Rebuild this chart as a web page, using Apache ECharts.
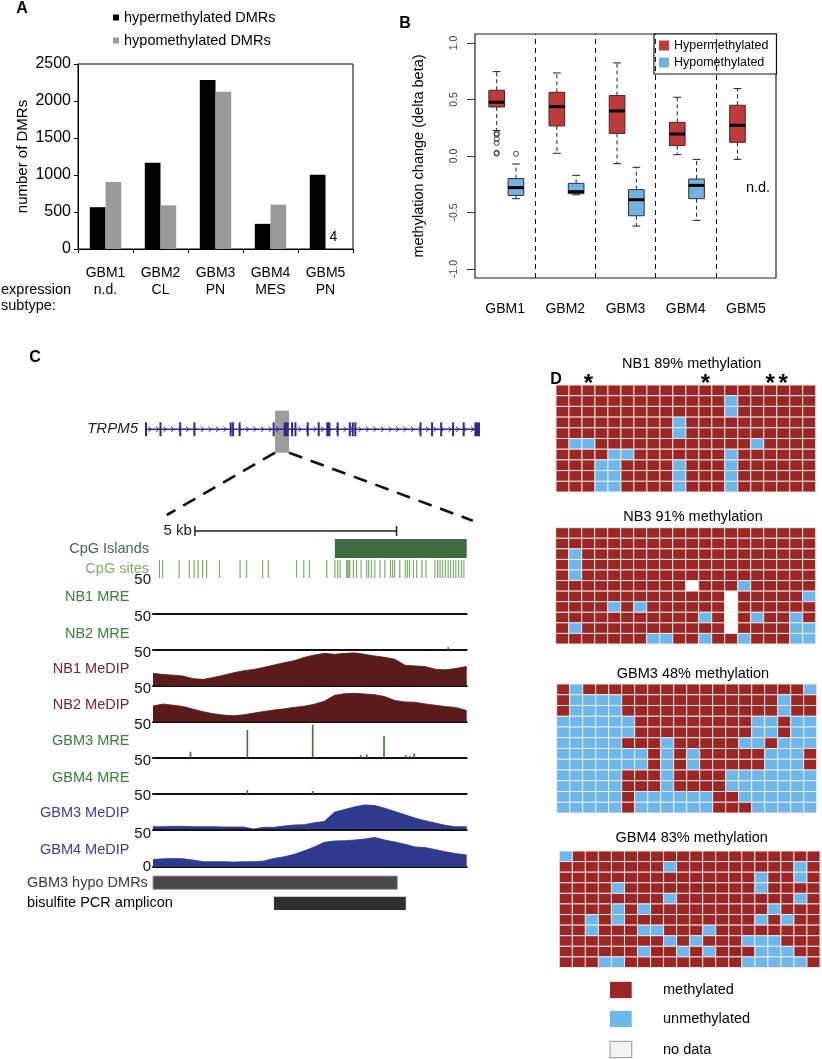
<!DOCTYPE html>
<html>
<head>
<meta charset="utf-8">
<script src="https://cdn.jsdelivr.net/npm/echarts@6.0.0/dist/echarts.min.js"></script>
<style>
html,body{margin:0;padding:0;background:#fff;}
#chart{width:822px;height:1059px;}
</style>
</head>
<body>
<div id="chart"></div>
<script>
// ================= DATA =================
// ---- Panel A
const aCategories = ['GBM1', 'GBM2', 'GBM3', 'GBM4', 'GBM5'];
const aSubtypes = ['n.d.', 'CL', 'PN', 'MES', 'PN'];
const aHyperDMRs = [565, 1165, 2285, 340, 1005];
const aHypoDMRs = [905, 590, 2125, 600, 4];

// ---- Panel B  [lower whisker, Q1, median, Q3, upper whisker]
const bGroups = ['GBM1', 'GBM2', 'GBM3', 'GBM4', 'GBM5'];
const bHyperStats = [
  [0.225, 0.434, 0.476, 0.582, 0.747],
  [0.024, 0.266, 0.437, 0.564, 0.735],
  [-0.068, 0.200, 0.399, 0.535, 0.824],
  [0.012, 0.092, 0.195, 0.298, 0.520],
  [-0.030, 0.121, 0.272, 0.449, 0.597]
];
const bHypoStats = [
  [-0.378, -0.349, -0.280, -0.200, -0.071],
  [-0.343, -0.334, -0.316, -0.242, -0.171],
  [-0.620, -0.529, -0.387, -0.298, -0.100],
  [-0.570, -0.378, -0.260, -0.204, -0.030],
  null
];
const bHyperOutliers = [[0.20, 0.19, 0.15, 0.115, 0.03, 0.02], [], [], [], []];
const bHypoOutliers = [[0.02], [], [], [], []];
const bYTicks = [-1, -0.5, 0, 0.5, 1];
const bSeparators = [1.5, 2.5, 3.5, 4.5];
const bNotDetermined = 'n.d.';

// ---- Panel C (positions in kb)
const trpm5Span = [0, 18];
const trpm5Exons = [[0.0,0.1],[0.78,0.86],[1.84,1.92],[2.6,2.68],[4.55,4.64],[4.68,4.75],[5.03,5.11],
  [6.86,6.92],[7.45,7.72],[7.85,7.93],[8.03,8.1],[8.69,8.77],[9.28,9.34],[9.74,9.96],[10.3,10.37],
  [10.95,11.02],[11.11,11.18],[11.25,11.32],[14.75,14.83],[15.37,15.45],[15.86,15.93],[16.5,16.57],
  [17.07,17.14],[17.7,18.0]];
const trpm5Zoom = [6.99, 7.74];
const regionKb = 7.78;
const scaleBarKb = [1.04, 6.04];
const scaleBarLabel = '5 kb';
const cpgIsland = [4.51, 7.78];
const cpgSites = [0.16,0.24,0.65,0.90,1.02,1.12,1.23,1.33,1.65,2.16,2.32,2.72,2.86,3.56,3.74,3.88,4.31,
  4.51,4.58,4.64,4.80,4.83,4.85,4.88,4.97,5.05,5.16,5.30,5.35,5.42,5.50,5.63,5.75,5.89,5.94,5.99,
  6.12,6.26,6.31,6.36,6.46,6.54,6.67,6.77,6.99,7.06,7.12,7.18,7.25,7.32,7.38,7.45,7.51,7.58,7.65,7.71];
const medipKb = [0,0.25,0.5,0.75,1,1.25,1.5,1.75,2,2.25,2.5,2.75,3,3.25,3.5,3.75,4,4.25,4.5,4.75,5,5.25,5.5,5.75,6,6.25,6.5,6.75,7,7.25,7.5,7.78];
const nb1Medip = [18.7,17,16,14.6,10.6,9.6,12.6,16,19.7,22.7,24.7,27.8,31.3,34.8,37.9,42.9,46.5,49,47.5,49,50,47.5,45,43,40,31,30,29,25,24,26,29];
const nb2Medip = [23.7,26.8,25,23,19,15,12,10,9,10.5,13,15.5,17.7,19.5,21.7,23.5,26.5,31,40,42.5,43,42,41,38,32,30,29.5,27,25,23,21.7,17];
const gbm3Medip = [4,4,4.5,4.5,4,4,4,3.5,3.5,3.5,0.5,3,3,5,6.5,7,10,12,26,30,34,37,36,32,27,22,17,13,9.5,6,4,4];
const gbm4Medip = [11,12,12.5,12,10,7.6,7.6,7.6,7.1,7.6,7.6,8.6,12.6,15,18.7,24,30,37,39,39.4,40.4,42,44.4,40.4,37.4,34,30,29,26,22.7,20,17.7];
const nb1Mre = [];
const nb2Mre = [[7.32, 4]];
const gbm3Mre = [[0.93,9],[2.34,42],[3.96,50],[5.15,4],[5.30,5],[5.73,33],[6.27,4],[6.37,2.5],[6.48,6.5]];
const gbm4Mre = [[2.34,6],[3.96,4.5]];
const featureLabels = ['GBM3 hypo DMRs', 'bisulfite PCR amplicon'];
const featureRanges = [[0, 6.06], [3.0, 6.27]];

// ---- Panel D (M = methylated, U = unmethylated, N = no data)
const nb1Rows = [
  'MMMMM MMMMM MMMMM MMMMM',
  'MMMMM MMMMM MMMUM MMMMM',
  'MMMMM MMMMM MMMUM MMMMM',
  'MMMMM MMMMU MMMMM MMMMM',
  'MMMMM MMMMU MMMMM MMMMM',
  'MUUMM MMMMM MMMMM UMMMM',
  'MMMMU UMMMM MMMUM MMMMM',
  'MMMUU MMMMU MMMUM MMMMM',
  'MMMUU MMMMU MMMUM MMMMM',
  'MMMUU MMMMU MMMUM MMMMM'
];
const nb1StarCols = [2, 11, 16, 17];
const nb3Rows = [
  'MMMMM MMMMM MMMMM MMMMM',
  'MMMMM MMMMM MMMMM MMMMM',
  'MUMMM MMMMM MMMMM MMMMM',
  'MUMMM MMMMM MMMMM MMMMM',
  'MUMMM MMMMM MMMMM MMMMM',
  'MMMMM MMMMM NMMMU MMMMM',
  'MMMMM MMMMM MMMNM MMMMU',
  'MMMMU MUMMM MMMNM MMMMM',
  'MMMMM MMMMM MUMNM UMMUM',
  'MUMMM MMMMM MMMNM MMMUU',
  'MMMMM MMUUM MUMMU MMMUU'
];
const gbm3Rows = [
  'MUMMM MMMMM MMMMM MMMMU',
  'MUUUU MMMMM MMMMM MMUMM',
  'MUUUU MMMMM MMMMM MMUMM',
  'UUUUU UMMMM MMMMM UUMUU',
  'UUUUU UMMMM MMMMM UUMUU',
  'UUUUU MMMUM MMMMU UMUUU',
  'UUUUU UUMUM UMMMM MUUUM',
  'UUUUU UUMUM UMMMM MUUUM',
  'UUUUU MMMUM MMMUU UUUUU',
  'UUUUU MMMUM MMMUU UUUUU',
  'UUUUU MUUUU UUMMU UUUUU',
  'UUUUU MUUUU UUMMM UUUUU'
];
const gbm4Rows = [
  'UMMMM MMMMM MMMMM MMMMM',
  'MMMMM MMMUM MMMMM MMMUM',
  'MMMMM MMMMM MMMMM UMMUM',
  'MMMMU MMMMM MMMMM UMMMM',
  'MMMMM MMMUM MMMMM MMMUM',
  'MMMMU MUMMM MMMMM MUMMM',
  'MMUMU MMMMM MMMMM UMUMM',
  'MMUMM MUUMM MUMMM MMMMM',
  'MMMMM MMMUM UMMMU UUMMM',
  'MMMMM MUMMU MUMMM UUUMM',
  'MMMUU MMMMM MMMMU UUUUM'
];
const dLegendLabels = ['methylated', 'unmethylated', 'no data'];

// ================= STYLE / LAYOUT =================
const FONT = '"Liberation Sans", Arial, Helvetica, sans-serif';
const COL = {
  hyper: '#c03a3b', hypo: '#70b3e3',
  meth: '#9b2624', unmeth: '#6cb8ec', nodata: '#ffffff',
  green: '#3e7b3e', greenLight: '#7fae6e', island: '#3e6c40',
  maroonFill: '#5a1b1b', maroonText: '#7a2424',
  blueFill: '#2f3a8e', blueText: '#3d3d9a', gene: '#2d2d87', mre: '#367a2c'
};
const cellColors = [COL.meth, COL.unmeth, COL.nodata];

const chart = echarts.init(document.getElementById('chart'), null, {renderer: 'canvas'});
const grid = [], xAxis = [], yAxis = [], series = [], graphic = [];
function add(g, xa, ya) {
  const i = grid.length;
  grid.push(g);
  xAxis.push(Object.assign({gridIndex: i}, xa));
  yAxis.push(Object.assign({gridIndex: i}, ya));
  return i;
}
function txt(x, y, text, opts) {
  graphic.push({type: 'text', x, y, silent: true, style: Object.assign({
    text, fontFamily: FONT, fontSize: 14.5, fill: '#000', align: 'left', verticalAlign: 'middle'}, opts || {})});
}
const bare = (min, max) => ({type: 'value', min, max, show: false, splitLine: {show: false}});

// ================= PANEL A =================
const gA = add(
  {left: 78, top: 64, width: 275, height: 185, show: true, borderColor: '#000', borderWidth: 1},
  {type: 'category', data: aCategories,
   axisLine: {lineStyle: {color: '#000', width: 1}},
   axisTick: {show: true, length: 4, lineStyle: {color: '#000'}},
   axisLabel: {color: '#000', fontSize: 14, fontFamily: FONT, margin: 16, lineHeight: 17,
     formatter: (v, i) => v + '\n' + aSubtypes[i]}},
  {type: 'value', min: 0, max: 2500, interval: 500, splitLine: {show: false},
   axisLine: {show: true, lineStyle: {color: '#000'}},
   axisTick: {show: true, length: 4, lineStyle: {color: '#000'}},
   axisLabel: {color: '#000', fontSize: 16, fontFamily: FONT, margin: 7, formatter: v => String(v)},
   name: 'number of DMRs', nameLocation: 'middle', nameGap: 48,
   nameTextStyle: {color: '#000', fontSize: 15, fontFamily: FONT}}
);
series.push({type: 'bar', name: 'hypermethylated DMRs', xAxisIndex: gA, yAxisIndex: gA,
  data: aHyperDMRs, barWidth: 15.7, barGap: '0%', itemStyle: {color: '#000'}});
series.push({type: 'bar', name: 'hypomethylated DMRs', xAxisIndex: gA, yAxisIndex: gA,
  data: aHypoDMRs.map(v => ({value: v, label: {show: v < 50}})),
  barWidth: 15.7, barGap: '0%', itemStyle: {color: '#9a9a9a'},
  label: {position: 'top', distance: 5, color: '#000', fontSize: 14, fontFamily: FONT}});
txt(1, 290, 'expression');
txt(1, 306, 'subtype:');

// ================= PANEL B =================
const bHyperOff = -0.14, bHypoOff = 0.18, bBoxW = 0.26;
const gB = add(
  {left: 475, top: 34, width: 301, height: 244, show: true, borderColor: '#222', borderWidth: 1.2},
  {type: 'value', min: 0.5, max: 5.5, splitLine: {show: false}, axisLine: {show: false}, axisTick: {show: false},
   axisLabel: {customValues: [1, 2, 3, 4, 5], formatter: v => bGroups[Math.round(v) - 1],
     fontSize: 14, color: '#000', fontFamily: FONT, margin: 24}},
  {type: 'value', min: -1.08, max: 1.08, splitLine: {show: false}, axisLine: {show: false},
   axisTick: {show: true, customValues: bYTicks, length: 8, lineStyle: {color: '#333'}},
   axisLabel: {customValues: bYTicks, rotate: 90, formatter: v => v.toFixed(1),
     fontSize: 10.5, color: '#444', fontFamily: FONT, margin: 15},
   name: 'methylation change (delta beta)', nameLocation: 'middle', nameGap: 49,
   nameTextStyle: {color: '#000', fontSize: 14.5, fontFamily: FONT}}
);
function renderBox(params, api) {
  const x = api.value(0);
  const p = [1, 2, 3, 4, 5].map(k => api.coord([x, api.value(k)]));
  const cx = p[0][0];
  const hw = api.size([bBoxW, 0])[0] / 2, cap = hw / 2;
  const wl = {stroke: '#222', lineWidth: 1};
  return {type: 'group', children: [
    {type: 'line', shape: {x1: cx, y1: p[3][1], x2: cx, y2: p[4][1]}, style: Object.assign({lineDash: [4, 3]}, wl)},
    {type: 'line', shape: {x1: cx, y1: p[1][1], x2: cx, y2: p[0][1]}, style: Object.assign({lineDash: [4, 3]}, wl)},
    {type: 'line', shape: {x1: cx - cap, y1: p[4][1], x2: cx + cap, y2: p[4][1]}, style: wl},
    {type: 'line', shape: {x1: cx - cap, y1: p[0][1], x2: cx + cap, y2: p[0][1]}, style: wl},
    {type: 'rect', shape: {x: cx - hw, y: p[3][1], width: 2 * hw, height: p[1][1] - p[3][1]},
     style: {fill: api.visual('color'), stroke: '#3a2a2a', lineWidth: 1}},
    {type: 'line', shape: {x1: cx - hw, y1: p[2][1], x2: cx + hw, y2: p[2][1]}, style: {stroke: '#000', lineWidth: 3}}
  ]};
}
function boxData(stats, off) {
  const out = [];
  stats.forEach((s, i) => { if (s) out.push([i + 1 + off].concat(s)); });
  return out;
}
function outData(list, off) {
  const out = [];
  list.forEach((vals, i) => vals.forEach(v => out.push([i + 1 + off, v])));
  return out;
}
series.push({type: 'custom', name: 'Hypermethylated', xAxisIndex: gB, yAxisIndex: gB,
  itemStyle: {color: COL.hyper}, data: boxData(bHyperStats, bHyperOff), renderItem: renderBox,
  encode: {x: 0, y: [1, 2, 3, 4, 5]},
  markLine: {silent: true, symbol: ['none', 'none'], label: {show: false},
    lineStyle: {type: [5, 4], color: '#111', width: 1},
    data: bSeparators.map(v => ({xAxis: v}))}});
series.push({type: 'custom', name: 'Hypomethylated', xAxisIndex: gB, yAxisIndex: gB,
  itemStyle: {color: COL.hypo}, data: boxData(bHypoStats, bHypoOff), renderItem: renderBox,
  encode: {x: 0, y: [1, 2, 3, 4, 5]}});
series.push({type: 'scatter', name: 'outliers', xAxisIndex: gB, yAxisIndex: gB, symbol: 'circle', symbolSize: 5,
  itemStyle: {color: 'rgba(0,0,0,0)', borderColor: '#222', borderWidth: 1},
  data: outData(bHyperOutliers, bHyperOff).concat(outData(bHypoOutliers, bHypoOff))});
txt(758, 188, bNotDetermined, {align: 'center', fontSize: 14.5});

// ================= PANEL C =================
const cLeft = 153, cWidth = 313.7;
// gene
const gG = add({left: 145, top: 409, width: 335, height: 40.6},
  bare(trpm5Span[0], trpm5Span[1]),
  {type: 'value', min: -1, max: 1, splitLine: {show: false}, axisLine: {show: false}, axisTick: {show: false},
   axisLabel: {show: false}, name: 'TRPM5', nameLocation: 'middle', nameRotate: 0, nameGap: 7,
   nameTextStyle: {color: '#222', fontSize: 15, fontStyle: 'italic', fontFamily: FONT}});
series.push({type: 'custom', xAxisIndex: gG, yAxisIndex: gG, silent: true, z: 1, data: [trpm5Zoom],
  renderItem: (p, api) => {
    const a = api.coord([api.value(0), 0]), b = api.coord([api.value(1), 0]);
    return {type: 'rect', shape: {x: a[0], y: a[1] - 18.6, width: b[0] - a[0], height: 42}, style: {fill: '#9c9c9c'}};
  }});
series.push({type: 'custom', xAxisIndex: gG, yAxisIndex: gG, silent: true, z: 2, data: [trpm5Span],
  renderItem: (p, api) => {
    const a = api.coord([api.value(0), 0]), b = api.coord([api.value(1), 0]);
    const y = a[1];
    const ch = [{type: 'line', shape: {x1: a[0], y1: y, x2: b[0], y2: y}, style: {stroke: COL.gene, lineWidth: 1.5}}];
    for (let x = a[0] + 5; x < b[0] - 3; x += 7.5) {
      ch.push({type: 'polyline', shape: {points: [[x - 1.5, y - 2.5], [x + 1.5, y], [x - 1.5, y + 2.5]]},
        style: {stroke: COL.gene, fill: null, lineWidth: 1}});
    }
    return {type: 'group', children: ch};
  }});
series.push({type: 'custom', xAxisIndex: gG, yAxisIndex: gG, silent: true, z: 3, data: trpm5Exons,
  renderItem: (p, api) => {
    const a = api.coord([api.value(0), 0]), b = api.coord([api.value(1), 0]);
    const w = Math.max(2, b[0] - a[0]);
    return {type: 'rect', shape: {x: a[0], y: a[1] - 7, width: w, height: 14}, style: {fill: COL.gene}};
  }});

// scale bar
const gS = add({left: cLeft, top: 524, width: cWidth, height: 14}, bare(0, regionKb), bare(-1, 1));
series.push({type: 'custom', xAxisIndex: gS, yAxisIndex: gS, silent: true, data: [scaleBarKb],
  renderItem: (p, api) => {
    const a = api.coord([api.value(0), 0]), b = api.coord([api.value(1), 0]);
    const y = a[1], st = {stroke: '#222', lineWidth: 1.5};
    return {type: 'group', children: [
      {type: 'line', shape: {x1: a[0], y1: y, x2: b[0], y2: y}, style: st},
      {type: 'line', shape: {x1: a[0], y1: y - 5, x2: a[0], y2: y + 5}, style: st},
      {type: 'line', shape: {x1: b[0], y1: y - 5, x2: b[0], y2: y + 5}, style: st},
      {type: 'text', x: a[0] - 3, y: y, style: {text: scaleBarLabel, fontSize: 15, fontFamily: FONT,
        fill: '#222', align: 'right', verticalAlign: 'middle'}}
    ]};
  }});

function labelAxis(name, color, extra) {
  return Object.assign({type: 'value', min: 0, max: 1, splitLine: {show: false}, axisLine: {show: false},
    axisTick: {show: false}, axisLabel: {show: false},
    name, nameLocation: 'middle', nameRotate: 0, nameGap: 4,
    nameTextStyle: {color, fontSize: 14.5, fontFamily: FONT}}, extra || {});
}
// CpG islands
const gI = add({left: cLeft, top: 539, width: cWidth, height: 19}, bare(0, regionKb), labelAxis('CpG Islands', COL.island));
series.push({type: 'custom', xAxisIndex: gI, yAxisIndex: gI, silent: true, data: [cpgIsland],
  renderItem: (p, api) => {
    const a = api.coord([api.value(0), 1]), b = api.coord([api.value(1), 0]);
    return {type: 'rect', shape: {x: a[0], y: a[1], width: b[0] - a[0], height: b[1] - a[1]}, style: {fill: COL.island}};
  }});
// CpG sites
const gC = add({left: cLeft, top: 560, width: cWidth, height: 18}, bare(0, regionKb), labelAxis('CpG sites', COL.greenLight));
series.push({type: 'custom', xAxisIndex: gC, yAxisIndex: gC, silent: true, data: cpgSites.map(v => [v]),
  renderItem: (p, api) => {
    const a = api.coord([api.value(0), 0]), b = api.coord([api.value(0), 1]);
    return {type: 'line', shape: {x1: a[0], y1: a[1], x2: b[0], y2: b[1]}, style: {stroke: COL.greenLight, lineWidth: 1.2}};
  }});

// signal tracks
const tracks = [
  {label: 'NB1 MRE', kind: 'mre', data: nb1Mre, text: COL.green},
  {label: 'NB2 MRE', kind: 'mre', data: nb2Mre, text: COL.green},
  {label: 'NB1 MeDIP', kind: 'medip', data: nb1Medip, text: COL.maroonText, fill: COL.maroonFill},
  {label: 'NB2 MeDIP', kind: 'medip', data: nb2Medip, text: COL.maroonText, fill: COL.maroonFill},
  {label: 'GBM3 MRE', kind: 'mre', data: gbm3Mre, text: COL.green},
  {label: 'GBM4 MRE', kind: 'mre', data: gbm4Mre, text: COL.green},
  {label: 'GBM3 MeDIP', kind: 'medip', data: gbm3Medip, text: COL.blueText, fill: COL.blueFill},
  {label: 'GBM4 MeDIP', kind: 'medip', data: gbm4Medip, text: COL.blueText, fill: COL.blueFill, ticks: [0, 50]}
];
const trackBottoms = [613.3, 650, 685.7, 721.7, 757.7, 794, 829.3, 866.7];
const trackH = 33;
tracks.forEach((t, k) => {
  const gi = add({left: cLeft, top: trackBottoms[k] - trackH, width: cWidth, height: trackH},
    {type: 'value', min: 0, max: regionKb, splitLine: {show: false}, axisLabel: {show: false}, axisTick: {show: false},
     axisLine: {show: true, onZero: false, lineStyle: {color: '#111', width: 2}}},
    {type: 'value', min: 0, max: 50, splitLine: {show: false}, axisLine: {show: false}, axisTick: {show: false},
     axisLabel: {customValues: t.ticks || [50], color: '#111', fontSize: 15, fontFamily: FONT, margin: 2},
     name: t.label, nameLocation: 'middle', nameRotate: 0, nameGap: 4,
     nameTextStyle: {color: t.text, fontSize: 14.5, fontFamily: FONT}});
  if (t.kind === 'medip') {
    series.push({type: 'line', xAxisIndex: gi, yAxisIndex: gi, silent: true, showSymbol: false, symbol: 'none',
      data: medipKb.map((x, i) => [x, t.data[i]]),
      lineStyle: {color: t.fill, width: 0.8}, areaStyle: {color: t.fill, opacity: 1}});
  } else {
    series.push({type: 'custom', xAxisIndex: gi, yAxisIndex: gi, silent: true, data: t.data,
      renderItem: (p, api) => {
        const a = api.coord([api.value(0), 0]), b = api.coord([api.value(0), api.value(1)]);
        return {type: 'line', shape: {x1: a[0], y1: a[1], x2: b[0], y2: b[1]}, style: {stroke: COL.mre, lineWidth: 1.6}};
      }});
  }
});

// DMR / amplicon
const gF = add({left: cLeft, top: 872.3, width: cWidth, height: 41.4}, bare(0, regionKb),
  {type: 'category', data: featureLabels, inverse: true, axisLine: {show: false}, axisTick: {show: false},
   axisLabel: {align: 'left', margin: 126, fontSize: 14.5, fontFamily: FONT,
     color: (v, i) => (i === 0 ? '#3a3a3a' : '#000')}});
series.push({type: 'custom', xAxisIndex: gF, yAxisIndex: gF, silent: true,
  data: featureRanges.map((r, i) => [r[0], i, r[1]]),
  encode: {x: [0, 2], y: 1},
  renderItem: (p, api) => {
    const i = api.value(1);
    const a = api.coord([api.value(0), i]), b = api.coord([api.value(2), i]);
    return {type: 'rect', shape: {x: a[0], y: a[1] - 6.6, width: b[0] - a[0], height: 13.3},
      style: i === 0 ? {fill: '#4d4646', stroke: '#9a9a9a', lineWidth: 1} : {fill: '#2e2e2e'}};
  }});

// ================= PANEL D =================
const dPanels = [
  {title: 'NB1 89% methylation', rows: nb1Rows, box: [556, 385, 259.7, 107], tx: 691.7, ty: 364.3},
  {title: 'NB3 91% methylation', rows: nb3Rows, box: [555.7, 527.7, 260, 116.3], tx: 693, ty: 517},
  {title: 'GBM3 48% methylation', rows: gbm3Rows, box: [556.7, 684, 260, 129], tx: 693, ty: 674},
  {title: 'GBM4 83% methylation', rows: gbm4Rows, box: [559.3, 851, 260.7, 116.5], tx: 691.7, ty: 838}
];
const stateIdx = {M: 0, U: 1, N: 2};
const dGridIdx = [];
dPanels.forEach(d => {
  const rows = d.rows.map(r => r.replace(/\s/g, ''));
  const nCol = rows[0].length;
  const gi = add({left: d.box[0], top: d.box[1], width: d.box[2], height: d.box[3]},
    {type: 'category', data: Array.from({length: nCol}, (_, i) => String(i)), show: false},
    {type: 'category', data: rows.map((_, i) => String(i)), inverse: true, show: false});
  dGridIdx.push(gi);
  const cells = [];
  rows.forEach((r, ri) => r.split('').forEach((ch, ci) => cells.push([ci, ri, stateIdx[ch]])));
  series.push({type: 'custom', xAxisIndex: gi, yAxisIndex: gi, silent: true, data: cells,
    renderItem: (p, api) => {
      const c = api.coord([api.value(0), api.value(1)]);
      const s = api.size([1, 1]);
      return {type: 'rect', shape: {x: c[0] - s[0] / 2, y: c[1] - s[1] / 2, width: s[0], height: s[1]},
        style: {fill: cellColors[api.value(2)], stroke: 'rgba(250,238,238,0.9)', lineWidth: 1}};
    }});
  txt(d.tx, d.ty, d.title, {align: 'center', fontSize: 14.5});
});
// stars above NB1
series.push({type: 'custom', xAxisIndex: dGridIdx[0], yAxisIndex: dGridIdx[0], silent: true,
  data: nb1StarCols.map(c => [c, 0]),
  renderItem: (p, api) => {
    const c = api.coord([api.value(0), 0]);
    const s = api.size([1, 1]);
    return {type: 'text', x: c[0], y: c[1] - s[1] / 2 - 1,
      style: {text: '*', fontSize: 24, fontWeight: 'bold', fontFamily: FONT, fill: '#000', align: 'center', verticalAlign: 'middle'}};
  }});
// D legend
const dLegendY = [990, 1019, 1049.5];
dLegendLabels.forEach((lab, i) => {
  graphic.push({type: 'rect', silent: true, shape: {x: 610, y: dLegendY[i] - 8.2, width: 21.7, height: 16.3},
    style: i === 2 ? {fill: '#f2f2f2', stroke: '#a8a8a8', lineWidth: 1.2} : {fill: cellColors[i]}});
  txt(663, dLegendY[i], lab, {fontSize: 14.5});
});

// panel letters
txt(22, 9, 'A', {align: 'center', fontWeight: 'bold', fontSize: 16});
txt(405, 24, 'B', {align: 'center', fontWeight: 'bold', fontSize: 16});
txt(35, 358, 'C', {align: 'center', fontWeight: 'bold', fontSize: 16});
txt(556, 380, 'D', {align: 'center', fontWeight: 'bold', fontSize: 16});

// ================= OPTION =================
const option = {
  animation: false,
  backgroundColor: '#fff',
  textStyle: {fontFamily: FONT},
  grid, xAxis, yAxis, series,
  legend: [
    {data: ['hypermethylated DMRs', 'hypomethylated DMRs'], orient: 'vertical', left: 108, top: 5,
     itemWidth: 6, itemHeight: 6, itemGap: 8, icon: 'rect', selectedMode: false,
     textStyle: {fontSize: 14.5, fontFamily: FONT, color: '#000'}},
    {data: ['Hypermethylated', 'Hypomethylated'], orient: 'vertical', left: 654, top: 34,
     padding: [5, 8, 5, 5], itemWidth: 10, itemHeight: 10, itemGap: 4, icon: 'rect', selectedMode: false,
     borderColor: '#111', borderWidth: 1.2, backgroundColor: '#fff',
     textStyle: {fontSize: 12.5, fontFamily: FONT, color: '#000'}}
  ],
  graphic: graphic
};
chart.setOption(option);

// zoom connector (dashed lines from highlighted gene region to the detail tracks)
const zl = chart.convertToPixel({gridIndex: gG}, [trpm5Zoom[0], 0]);
const zr = chart.convertToPixel({gridIndex: gG}, [trpm5Zoom[1], 0]);
const bottomY = zl[1] + 23.4;
const leftEnd = chart.convertToPixel({gridIndex: gS}, [0.34, 0]);
const rightEnd = chart.convertToPixel({gridIndex: gS}, [7.93, 0]);
const dash = {stroke: '#111', lineWidth: 2.6, lineDash: [14, 9]};
graphic.push({type: 'line', silent: true, shape: {x1: zl[0], y1: bottomY, x2: leftEnd[0], y2: 515}, style: dash});
graphic.push({type: 'line', silent: true, shape: {x1: zr[0], y1: bottomY, x2: rightEnd[0], y2: 520.7}, style: dash});
chart.setOption({graphic: graphic});
</script>
</body>
</html>
